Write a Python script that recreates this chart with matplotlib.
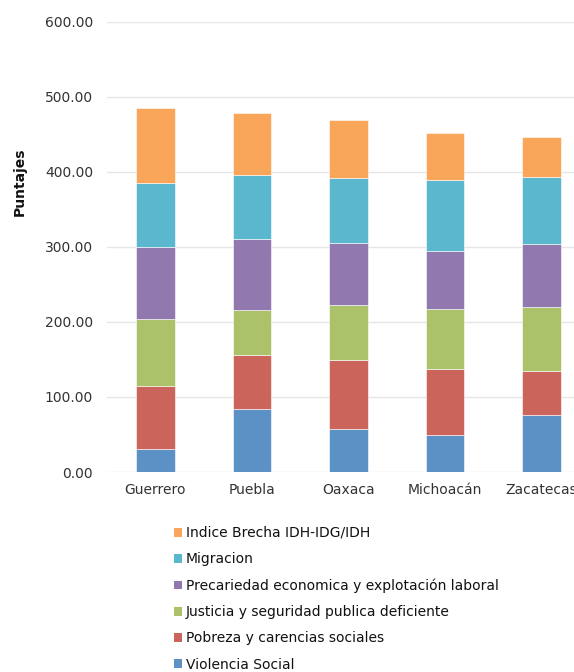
import matplotlib
matplotlib.use("Agg")
import matplotlib.pyplot as plt
import numpy as np
from matplotlib.patches import Patch

states = ["Guerrero", "Puebla", "Oaxaca", "Michoacán", "Zacatecas"]
series_names = [
    "Violencia Social",
    "Pobreza y carencias sociales",
    "Justicia y seguridad publica deficiente",
    "Precariedad economica y explotación laboral",
    "Migracion",
    "Indice Brecha IDH-IDG/IDH",
]
violencia = [31.0, 83.5, 57.3, 49.7, 75.9]
pobreza = [84.0, 72.0, 91.9, 87.5, 59.1]
justicia = [89.3, 59.9, 73.7, 80.0, 84.8]
precariedad = [95.9, 95.5, 82.1, 76.8, 84.0]
migracion = [84.8, 84.8, 86.7, 95.5, 89.2]
brecha = [100.4, 82.6, 77.3, 62.2, 53.4]
series_values = [violencia, pobreza, justicia, precariedad, migracion, brecha]
colors = ["#5B91C4", "#CB645A", "#ABC26A", "#9179AF", "#5BB7CD", "#F9A65A"]
yticks = [0, 100, 200, 300, 400, 500, 600]

fig = plt.figure(figsize=(5.74, 6.72), dpi=100)
ax = fig.add_axes([107/574, 1 - 472/672, (590-107)/574, (472-21.7)/672])

x = np.arange(len(states))
bottom = np.zeros(len(states))
for name, vals, c in zip(series_names, series_values, colors):
    ax.bar(x, vals, width=0.4, bottom=bottom, color=c, edgecolor="white",
           linewidth=0.4, label=name, zorder=3)
    bottom += np.array(vals)

ax.set_xlim(-0.5, len(states) - 0.5)
ax.set_ylim(0, 600)
ax.set_yticks(yticks)
ax.set_yticklabels([f"{v:.2f}" for v in yticks])
ax.set_xticks(x)
ax.set_xticklabels(states)
ax.tick_params(length=0, labelsize=10, colors="#333333")
ax.tick_params(axis="y", pad=10)
ax.tick_params(axis="x", pad=8)
for s in ax.spines.values():
    s.set_visible(False)
ax.grid(axis="y", color="#e6e6e6", linewidth=1, zorder=0)
ax.set_axisbelow(True)

fig.text(20/574, 1 - 182/672, "Puntajes", rotation=90, fontsize=10,
         fontweight="bold", ha="center", va="center", color="#111111")

handles = [Patch(facecolor=c, edgecolor="none") for c in colors][::-1]
labels = series_names[::-1]
fig.legend(handles, labels, loc="upper left",
           bbox_to_anchor=(174/574, 1 - 526/672), frameon=False,
           fontsize=10, labelcolor="#111111", handlelength=0.6,
           handleheight=0.6, handletextpad=0.25, labelspacing=0.88,
           borderpad=0, borderaxespad=0)

fig.savefig("out.png", dpi=100)
